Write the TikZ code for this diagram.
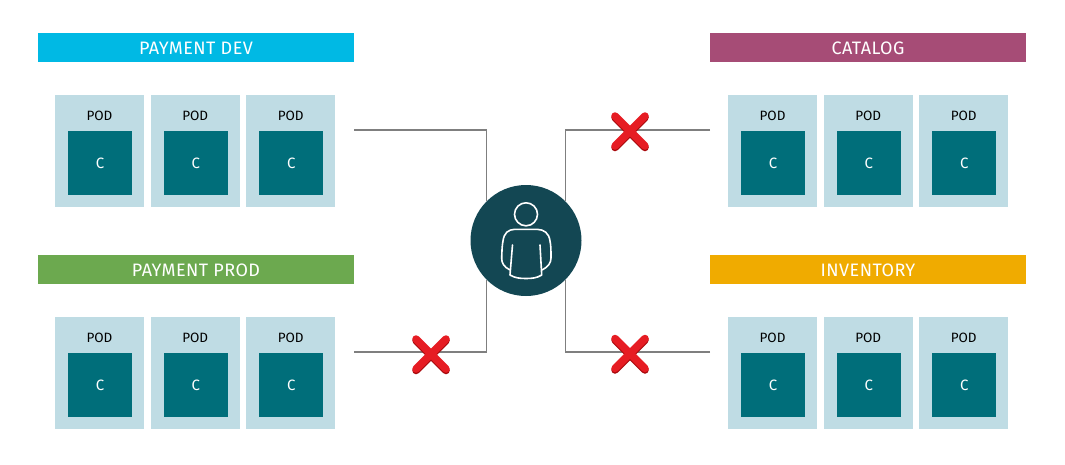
\documentclass[tikz,border=0pt]{standalone}
\usepackage{fontspec}
\setmainfont{Fira Sans}
\newfontfamily\headfont[LetterSpace=2.5]{Fira Sans}
\definecolor{devblue}{HTML}{00B9E4}
\definecolor{prodgreen}{HTML}{6CA94F}
\definecolor{catalogred}{HTML}{A64C76}
\definecolor{invamber}{HTML}{F0AB00}
\definecolor{podblue}{HTML}{BFDCE4}
\definecolor{contteal}{HTML}{006E7A}
\definecolor{userteal}{HTML}{134753}
\definecolor{linkgrey}{HTML}{7F7F7F}
\definecolor{crossred}{HTML}{E61C23}
\definecolor{crossdark}{HTML}{A8090D}
\tikzset{
	header/.style={minimum width=316pt,minimum height=29pt,inner sep=0pt,text=white,text height=14.5pt,text depth=0pt,font=\headfont\fontsize{18}{20}\selectfont},
	podbox/.style={fill=podblue,minimum width=89pt,minimum height=112pt,inner sep=0pt},
	podlabel/.style={inner sep=0pt,font=\fontsize{13.5}{15}\selectfont},
	contbox/.style={fill=contteal,minimum width=64pt,minimum height=64pt,inner sep=0pt,text=white,font=\fontsize{15}{16}\selectfont},
	link/.style={draw=linkgrey,line width=1.7pt},
	personline/.style={white,line width=1.6pt,line join=round,line cap=round},
	crossbar/.style={line width=7.5pt,line cap=round}
}
% three pods side by side: #1 name, #2 first centre x, #3 centre y
\newcommand{\podrow}[3]{
	\foreach \i/\dx in {a/0,b/95.7,c/191.2} {
		\node[podbox] (#1pod\i) at ({#2+\dx},#3) {};
		\node[contbox] (#1cont\i) at ([xshift=0.5pt,yshift=-12pt]#1pod\i.center) {C};
		\node[podlabel] (#1lab\i) at ([yshift=-21.5pt]#1pod\i.north) {POD};
	}
}
\newcommand{\crossat}[1]{
	\draw[crossbar,crossdark] ([shift={(-15,-13.5)}]#1) -- ([shift={(15,16.5)}]#1);
	\draw[crossbar,crossdark] ([shift={(15,-13.5)}]#1) -- ([shift={(-15,16.5)}]#1);
	\draw[crossbar,crossred] ([shift={(-15,-15)}]#1) -- ([shift={(15,15)}]#1);
	\draw[crossbar,crossred] ([shift={(15,-15)}]#1) -- ([shift={(-15,15)}]#1);
}
\begin{document}
\begin{tikzpicture}[x=1pt,y=-1pt]
	\useasboundingbox (0,0) rectangle (1065,464);
	
	\node[header,fill=devblue] (dev) at (196,47.5) {PAYMENT DEV};
	\node[header,fill=prodgreen] (prod) at (196,269.5) {PAYMENT PROD};
	\node[header,fill=catalogred] (catalog) at (868,47.5) {CATALOG};
	\node[header,fill=invamber] (inventory) at (868,269.5) {INVENTORY};
	
	\podrow{dev}{99.5}{151}
	\podrow{prod}{99.5}{373}
	\podrow{catalog}{772.5}{151}
	\podrow{inventory}{772.5}{373}
	
	% loose ends of the links
	\coordinate (devend) at (354,130);
	\coordinate (prodend) at (354,352);
	\coordinate (catalogend) at (710,130);
	\coordinate (inventoryend) at (710,352);
	
	\node[circle,fill=userteal,minimum size=111pt,inner sep=0pt] (user) at (526,240.5) {};
	\draw[link] (devend) -| (user.north west);
	\draw[link] (prodend) -| (user.south west);
	\draw[link] (catalogend) -| (user.north east);
	\draw[link] (inventoryend) -| (user.south east);
	
	% person
	\draw[personline] (526,214.3) circle (11.5);
	\draw[personline] (510,270) .. controls (504,267) and (501.5,263) .. (501.7,258)
		.. controls (502,250) and (502,246) .. (503,241) .. controls (504,233) and (508,229.5) .. (515,229.3)
		-- (537,229.3) .. controls (544,229.5) and (549,233) .. (550,241) .. controls (551,246) and (551,250) .. (551,258)
		.. controls (551,263) and (548,267) .. (542,270);
	\draw[personline] (512.5,245) -- (510,275)
		.. controls (515,278) and (520,278.5) .. (526,278.5) .. controls (532,278.5) and (537,278) .. (541.7,275) -- (540,245);
	
	\coordinate (prodcross) at (431,354);
	\coordinate (catalogcross) at (630,131);
	\coordinate (inventorycross) at (630,353.5);
	\crossat{prodcross}
	\crossat{catalogcross}
	\crossat{inventorycross}
\end{tikzpicture}
\end{document}
